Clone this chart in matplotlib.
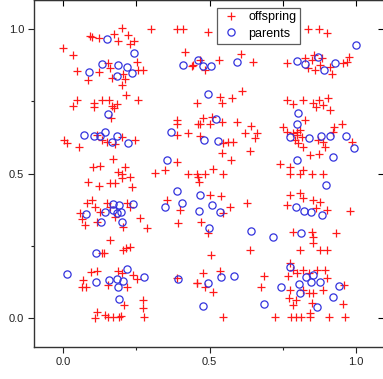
import matplotlib
matplotlib.use("Agg")
import matplotlib.pyplot as plt

plt.rcParams['font.family'] = ['Liberation Sans', 'DejaVu Sans']

# offspring points (x, y)
offspring = [
    (0.200, 1.002), (0.299, 0.999), (0.388, 0.999), (0.409, 0.999), (0.000, 0.935),
    (0.092, 0.975), (0.098, 0.971), (0.123, 0.970), (0.175, 0.982), (0.186, 0.959),
    (0.223, 0.979), (0.242, 0.958), (0.227, 0.948), (0.033, 0.910), (0.049, 0.856),
    (0.084, 0.823), (0.123, 0.852), (0.155, 0.883), (0.161, 0.864), (0.166, 0.829),
    (0.206, 0.846), (0.212, 0.826), (0.200, 0.806), (0.252, 0.887), (0.257, 0.858),
    (0.272, 0.858), (0.417, 0.921), (0.443, 0.875), (0.049, 0.756), (0.035, 0.733),
    (0.106, 0.745), (0.106, 0.729), (0.132, 0.756), (0.157, 0.754), (0.166, 0.733),
    (0.174, 0.725), (0.183, 0.740), (0.214, 0.771), (0.257, 0.756), (0.163, 0.691),
    (0.388, 0.685), (0.388, 0.671), (0.462, 0.671), (0.003, 0.616), (0.013, 0.604),
    (0.055, 0.593), (0.117, 0.633), (0.132, 0.616), (0.151, 0.610), (0.178, 0.602),
    (0.200, 0.627), (0.246, 0.616), (0.388, 0.633), (0.425, 0.639), (0.466, 0.630),
    (0.104, 0.524), (0.126, 0.527), (0.169, 0.549), (0.186, 0.506), (0.200, 0.500),
    (0.212, 0.524), (0.200, 0.483), (0.229, 0.489), (0.314, 0.503), (0.348, 0.512),
    (0.388, 0.541), (0.428, 0.500), (0.462, 0.489), (0.084, 0.472), (0.123, 0.457),
    (0.161, 0.466), (0.178, 0.466), (0.235, 0.454),
    (0.496, 0.990), (0.837, 0.999), (0.875, 0.999), (0.902, 0.985), (0.606, 0.913),
    (0.534, 0.892), (0.650, 0.887), (0.763, 0.883), (0.439, 0.873), (0.485, 0.858),
    (0.468, 0.892), (0.826, 0.898), (0.849, 0.892), (0.857, 0.910), (0.883, 0.898),
    (0.837, 0.864), (0.860, 0.858), (0.877, 0.875), (0.911, 0.869), (0.919, 0.846),
    (0.955, 0.881), (0.968, 0.887), (0.977, 0.904), (0.456, 0.745), (0.536, 0.766),
    (0.542, 0.743), (0.576, 0.760), (0.610, 0.786), (0.763, 0.756), (0.786, 0.740),
    (0.820, 0.756), (0.854, 0.745), (0.875, 0.756), (0.889, 0.737), (0.906, 0.760),
    (0.911, 0.720), (0.864, 0.731), (0.468, 0.673), (0.479, 0.691), (0.507, 0.696),
    (0.502, 0.673), (0.542, 0.679), (0.593, 0.679), (0.641, 0.664), (0.621, 0.641),
    (0.661, 0.641), (0.655, 0.622), (0.752, 0.662), (0.763, 0.645), (0.786, 0.639),
    (0.798, 0.645), (0.809, 0.650), (0.826, 0.685), (0.815, 0.627), (0.803, 0.604),
    (0.820, 0.593), (0.872, 0.616), (0.889, 0.610), (0.894, 0.593), (0.951, 0.671),
    (0.925, 0.662), (0.923, 0.645), (0.985, 0.610), (0.547, 0.604), (0.564, 0.610),
    (0.581, 0.610), (0.544, 0.570), (0.638, 0.579), (0.573, 0.547), (0.741, 0.533),
    (0.775, 0.524), (0.775, 0.500), (0.809, 0.500), (0.820, 0.512), (0.849, 0.500),
    (0.843, 0.564), (0.875, 0.567), (0.889, 0.500), (0.456, 0.500), (0.485, 0.500),
    (0.513, 0.514), (0.545, 0.498), (0.465, 0.472), (0.792, 0.616), (0.800, 0.633),
    (0.058, 0.365), (0.064, 0.342), (0.075, 0.322), (0.083, 0.397), (0.098, 0.408),
    (0.109, 0.385), (0.126, 0.368), (0.115, 0.333), (0.149, 0.397), (0.161, 0.385),
    (0.178, 0.351), (0.206, 0.316), (0.217, 0.397), (0.229, 0.385), (0.263, 0.345),
    (0.286, 0.310), (0.161, 0.270), (0.206, 0.235), (0.215, 0.241), (0.227, 0.247),
    (0.134, 0.226), (0.140, 0.226), (0.354, 0.408), (0.394, 0.328), (0.400, 0.374),
    (0.067, 0.132), (0.064, 0.109), (0.079, 0.109), (0.095, 0.160), (0.117, 0.164),
    (0.189, 0.164), (0.200, 0.155), (0.155, 0.114), (0.217, 0.109), (0.238, 0.149),
    (0.252, 0.134), (0.208, 0.045), (0.274, 0.062), (0.274, 0.034), (0.277, 0.003),
    (0.115, 0.022), (0.109, -0.001), (0.143, 0.011), (0.155, 0.005), (0.172, 0.003),
    (0.191, 0.005), (0.197, 0.007), (0.388, 0.137), (0.456, 0.120),
    (0.502, 0.426), (0.538, 0.422), (0.629, 0.397), (0.570, 0.383), (0.547, 0.365),
    (0.470, 0.333), (0.496, 0.293), (0.504, 0.218), (0.638, 0.235), (0.763, 0.391),
    (0.775, 0.426), (0.809, 0.431), (0.820, 0.414), (0.854, 0.408), (0.877, 0.403),
    (0.864, 0.380), (0.900, 0.374), (0.980, 0.371), (0.786, 0.299), (0.849, 0.299),
    (0.852, 0.282), (0.852, 0.259), (0.932, 0.295), (0.877, 0.235), (0.900, 0.235),
    (0.809, 0.235), (0.456, 0.122), (0.479, 0.155), (0.485, 0.109), (0.511, 0.091),
    (0.536, 0.163), (0.686, 0.145), (0.675, 0.109), (0.775, 0.189), (0.786, 0.166),
    (0.769, 0.145), (0.798, 0.155), (0.820, 0.166), (0.841, 0.155), (0.866, 0.166),
    (0.894, 0.166), (0.900, 0.137), (0.775, 0.097), (0.773, 0.068), (0.786, 0.045),
    (0.795, 0.062), (0.820, 0.097), (0.841, 0.086), (0.849, 0.051), (0.854, 0.086),
    (0.889, 0.097), (0.957, 0.049), (0.959, 0.114), (0.545, 0.003), (0.724, 0.003),
    (0.777, 0.003), (0.795, 0.003), (0.811, 0.003), (0.843, 0.003), (0.843, 0.019),
    (0.909, 0.003), (0.963, 0.003),
]

# parents points (x, y)
parents = [
    (0.149, 0.965), (0.242, 0.918), (0.134, 0.879), (0.189, 0.875), (0.217, 0.870),
    (0.090, 0.851), (0.183, 0.839), (0.234, 0.847), (0.411, 0.875), (0.460, 0.893),
    (0.155, 0.706), (0.072, 0.633), (0.106, 0.630), (0.126, 0.630), (0.143, 0.643),
    (0.166, 0.608), (0.185, 0.630), (0.223, 0.604), (0.367, 0.643), (0.354, 0.547),
    (0.390, 0.440),
    (0.479, 0.873), (0.505, 0.872), (0.595, 0.885), (0.800, 0.889), (0.826, 0.879),
    (0.871, 0.902), (0.892, 0.857), (0.928, 0.881), (1.000, 0.945), (0.496, 0.775),
    (0.522, 0.687), (0.803, 0.711), (0.800, 0.670), (0.775, 0.627), (0.838, 0.622),
    (0.879, 0.630), (0.911, 0.630), (0.965, 0.630), (0.994, 0.587), (0.482, 0.616),
    (0.530, 0.614), (0.800, 0.547), (0.923, 0.556), (0.896, 0.460),
    (0.240, 0.394), (0.172, 0.394), (0.192, 0.391), (0.143, 0.368), (0.172, 0.374),
    (0.185, 0.362), (0.197, 0.368), (0.078, 0.360), (0.130, 0.333), (0.200, 0.333),
    (0.348, 0.385), (0.407, 0.399), (0.464, 0.371), (0.112, 0.226), (0.217, 0.168),
    (0.015, 0.152), (0.112, 0.126), (0.157, 0.131), (0.185, 0.135), (0.206, 0.129),
    (0.189, 0.108), (0.276, 0.143), (0.394, 0.135), (0.192, 0.066),
    (0.468, 0.426), (0.508, 0.391), (0.536, 0.368), (0.499, 0.313), (0.641, 0.300),
    (0.716, 0.282), (0.795, 0.385), (0.823, 0.371), (0.845, 0.366), (0.885, 0.356),
    (0.812, 0.295), (0.775, 0.178), (0.829, 0.141), (0.852, 0.149), (0.846, 0.123),
    (0.877, 0.126), (0.805, 0.118), (0.809, 0.085), (0.942, 0.112), (0.923, 0.071),
    (0.866, 0.039), (0.743, 0.106), (0.686, 0.048), (0.585, 0.147), (0.538, 0.141),
    (0.496, 0.122), (0.479, 0.042),
]

off_x = [p[0] for p in offspring]
off_y = [p[1] for p in offspring]
par_x = [p[0] for p in parents]
par_y = [p[1] for p in parents]

xticks = [0.0, 0.5, 1.0]
yticks = [0.0, 0.5, 1.0]
tick_labels = ["0.0", "0.5", "1.0"]
minor = [0.25, 0.75]

fig = plt.figure(figsize=(3.83, 3.79), dpi=100)
ax = fig.add_axes([0.088, 0.0847, 0.918, 0.915])

ax.plot(off_x, off_y, linestyle='none', marker='+', color='#ff1a1a',
        markersize=5.5, markeredgewidth=0.9, label='offspring')
ax.plot(par_x, par_y, linestyle='none', marker='o', markerfacecolor='none',
        markeredgecolor='#3333dd', markersize=5.2, markeredgewidth=0.9, label='parents')

ax.set_xlim(-0.1, 1.1)
ax.set_ylim(-0.1, 1.1)
ax.set_xticks(xticks)
ax.set_xticklabels(tick_labels)
ax.set_yticks(yticks)
ax.set_yticklabels(tick_labels)
ax.set_xticks(minor, minor=True)
ax.set_yticks(minor, minor=True)
ax.tick_params(which='major', direction='out', length=4, width=0.8,
               labelsize=8, pad=3, colors='#222222')
ax.tick_params(which='minor', direction='out', length=2, width=0.8, colors='#222222')
for s in ax.spines.values():
    s.set_linewidth(1.0)
    s.set_color('#333333')

top = ax.secondary_xaxis('top')
top.set_xticks([0.0, 0.25, 0.5, 0.75, 1.0])
top.tick_params(direction='in', length=4, width=0.8, labeltop=False)
right = ax.secondary_yaxis('right')
right.set_yticks([0.0, 0.5, 1.0])
right.tick_params(direction='in', length=5, width=0.8, labelright=False)

leg = ax.legend(loc='upper left', bbox_to_anchor=(0.521, 0.978), fontsize=9,
                frameon=True, fancybox=False, edgecolor='#333333',
                borderpad=0.3, handletextpad=0.6, labelspacing=0.35,
                handlelength=1.6, borderaxespad=0)
leg.get_frame().set_linewidth(0.9)

fig.savefig('out.png', dpi=100)
